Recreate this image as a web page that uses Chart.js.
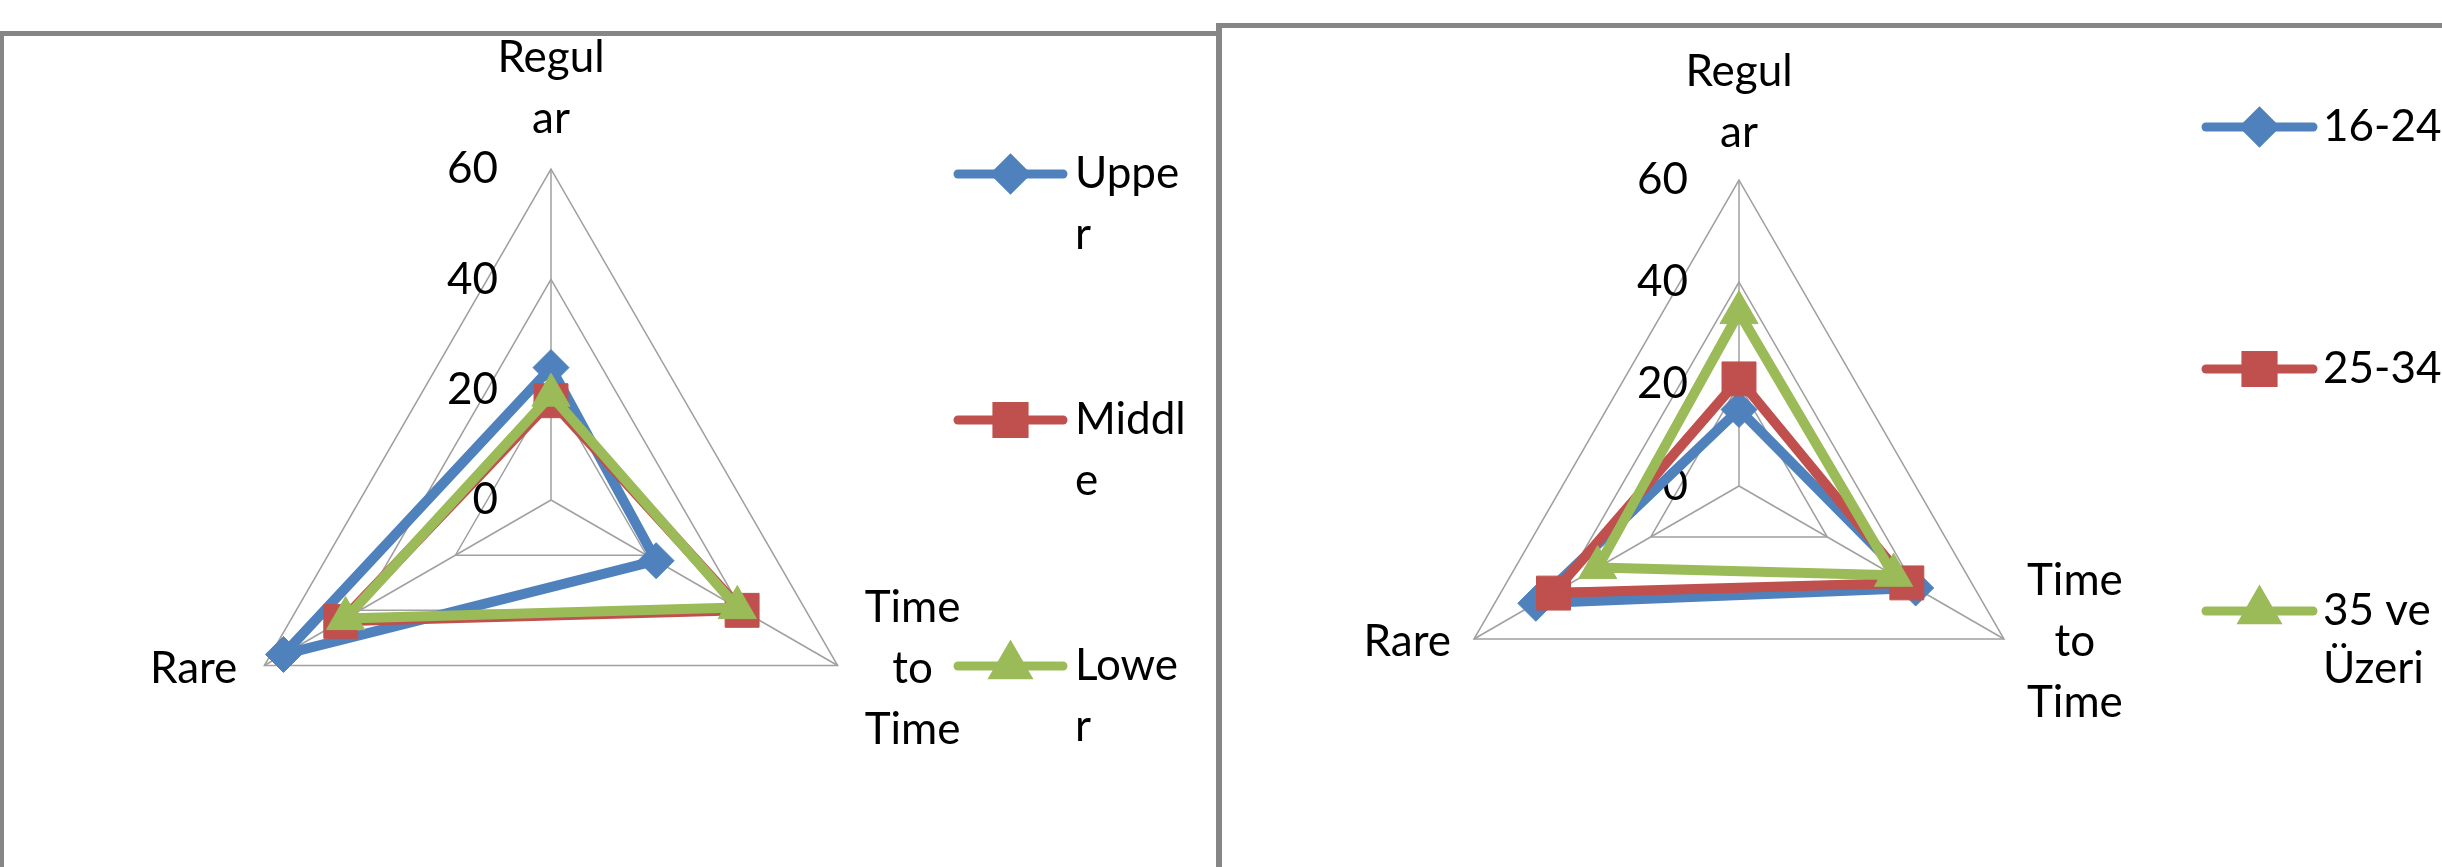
<!DOCTYPE html>
<html>
<head>
<meta charset="utf-8">
<script src="https://cdn.jsdelivr.net/npm/chart.js@4.4.0/dist/chart.umd.min.js"></script>
<style>
html,body{margin:0;padding:0;background:#fff;width:2442px;height:867px;overflow:hidden;}
.wrap{position:absolute;}
canvas{display:block;}
.ln{position:absolute;background:#868686;}
</style>
</head>
<body>
<div class="wrap" style="left:0;top:0;width:1219px;height:867px"><canvas id="c1"></canvas></div>
<div class="wrap" style="left:1219px;top:0;width:1223px;height:867px"><canvas id="c2"></canvas></div>
<div class="ln" style="left:0;top:31px;width:1217px;height:5px"></div>
<div class="ln" style="left:0;top:31px;width:4px;height:836px"></div>
<div class="ln" style="left:1216px;top:23px;width:1226px;height:5px"></div>
<div class="ln" style="left:1216px;top:23px;width:6px;height:844px"></div>
<script>
// ---- data ----
const categories = ['Regular', 'Time to Time', 'Rare'];
const categoryLines = [['Regul', 'ar'], ['Time', 'to', 'Time'], ['Rare']];
const tickValues = [0, 20, 40, 60];

const classSeries = ['Upper', 'Middle', 'Lower'];
const classLegendLines = [['Uppe', 'r'], ['Middl', 'e'], ['Lowe', 'r']];
const upperValues = [24, 22, 56];
const middleValues = [18, 40, 44];
const lowerValues = [19, 39, 43];

const ageSeries = ['16-24', '25-34', '35 ve Üzeri'];
const ageLegendLines = [['16-24'], ['25-34'], ['35 ve', 'Üzeri']];
const age1624Values = [15, 40, 46];
const age2534Values = [21, 38, 42];
const age35Values = [34, 35, 32];

// ---- styling ----
const COLORS = ['#4F81BD', '#C0504D', '#9BBB59'];
const STYLES = ['rectRot', 'rect', 'triangle'];
const RADII = [18, 24, 22];
const FONT = '44px Lato';

const excelLabels = {
  id: 'excelLabels',
  beforeDatasetsDraw(chart, args, o) {
    const s = chart.scales.r, ctx = chart.ctx;
    ctx.save();
    ctx.fillStyle = '#000';
    ctx.font = FONT;
    ctx.textBaseline = 'middle';
    ctx.textAlign = 'right';
    tickValues.forEach(v => {
      const d = s.getDistanceFromCenterForValue(v);
      ctx.fillText(String(v), s.xCenter - o.tickGap, s.yCenter - d);
    });
    ctx.restore();
  },
  afterDraw(chart, args, o) {
    const s = chart.scales.r, ctx = chart.ctx;
    ctx.save();
    ctx.fillStyle = '#000';
    ctx.font = FONT;
    ctx.textBaseline = 'middle';
    // category labels
    categoryLines.forEach((lines, i) => {
      const p = s.getPointPosition(i, s.drawingArea);
      const n = lines.length;
      if (i === 0) {
        ctx.textAlign = 'center';
        lines.forEach((t, k) => ctx.fillText(t, p.x, p.y - o.topGap - (n - 1 - k) * o.lh));
      } else if (i === 1) {
        const w = Math.max(...lines.map(t => ctx.measureText(t).width));
        ctx.textAlign = 'center';
        const y0 = p.y + o.dy - (n - 1) * o.lh / 2;
        lines.forEach((t, k) => ctx.fillText(t, p.x + o.sideGap + w / 2, y0 + k * o.lh));
      } else {
        ctx.textAlign = 'right';
        const y0 = p.y + o.dy - (n - 1) * o.lh / 2;
        lines.forEach((t, k) => ctx.fillText(t, p.x - o.sideGap, y0 + k * o.lh));
      }
    });
    // legend
    const lg = o.legend;
    chart.data.datasets.forEach((ds, i) => {
      const y = lg.rows[i];
      ctx.strokeStyle = ds.borderColor;
      ctx.lineWidth = 9;
      ctx.lineCap = 'round';
      ctx.beginPath();
      ctx.moveTo(lg.x0, y);
      ctx.lineTo(lg.x1, y);
      ctx.stroke();
      ctx.fillStyle = ds.borderColor;
      Chart.helpers.drawPoint(ctx, {pointStyle: ds.pointStyle, radius: ds.pointRadius * 0.8, rotation: 0, borderWidth: 1}, (lg.x0 + lg.x1) / 2, y);
      ctx.fillStyle = '#000';
      ctx.textAlign = 'left';
      lg.lines[i].forEach((t, k) => ctx.fillText(t, lg.tx, y + k * lg.lh));
    });
    ctx.restore();
  }
};

function makeChart(id, names, seriesValues, padding, labelOpts) {
  const datasets = names.map((n, i) => ({
    label: n,
    data: seriesValues[i],
    borderColor: COLORS[i],
    backgroundColor: COLORS[i],
    borderWidth: 10,
    borderJoinStyle: 'round',
    fill: false,
    pointStyle: STYLES[i],
    pointRadius: RADII[i],
    pointHoverRadius: RADII[i],
    pointBorderWidth: 1,
    pointBackgroundColor: COLORS[i],
    pointBorderColor: COLORS[i],
    order: names.length - 1 - i
  }));
  return new Chart(document.getElementById(id), {
    type: 'radar',
    data: { labels: categories, datasets },
    options: {
      responsive: true,
      maintainAspectRatio: false,
      animation: false,
      events: [],
      layout: { padding },
      plugins: { legend: { display: false }, tooltip: { enabled: false }, excelLabels: labelOpts },
      scales: {
        r: {
          min: 0, max: 60,
          ticks: { stepSize: 20, display: false },
          grid: { color: '#a0a0a0', lineWidth: 1.5 },
          angleLines: { color: '#a0a0a0', lineWidth: 1.5 },
          pointLabels: { display: false }
        }
      }
    },
    plugins: [excelLabels]
  });
}

makeChart('c1', classSeries, [upperValues, middleValues, lowerValues],
  { left: 220, right: 337, top: 169, bottom: 36 },
  { tickGap: 53, lh: 61, topGap: 50, sideGap: 27, dy: 3,
    legend: { x0: 958, x1: 1063, tx: 1075, rows: [174, 420, 666], lh: 61, lines: classLegendLines } });

makeChart('c2', ageSeries, [age1624Values, age2534Values, age35Values],
  { left: 214, right: 397, top: 180, bottom: 75 },
  { tickGap: 51, lh: 61, topGap: 47, sideGap: 23, dy: 3,
    legend: { x0: 987, x1: 1094, tx: 1104, rows: [127, 369, 611], lh: 58, lines: ageLegendLines } });
</script>
</body>
</html>
